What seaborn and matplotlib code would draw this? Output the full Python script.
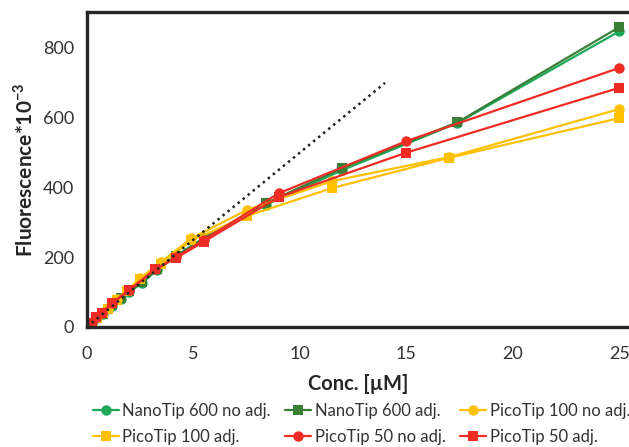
import numpy as np
import pandas as pd
import matplotlib
matplotlib.use("Agg")
import matplotlib.pyplot as plt
import seaborn as sns

# data (Fluorescence * 10^-3 vs concentration in uM)
nano_x = [0.25, 0.5, 0.75, 1.2, 1.6, 2.0, 2.6, 3.3, 4.2, 5.5, 8.4, 12, 17.4, 25]
nano_noadj = [12, 25, 37, 60, 80, 100, 127, 163, 205, 255, 350, 450, 585, 848]
nano_adj = [12, 26, 38, 62, 83, 103, 128, 165, 203, 255, 355, 456, 587, 860]

pico100_x = [0.25, 0.5, 0.75, 1.0, 1.4, 1.9, 2.5, 3.5, 4.9, 7.5, 11.5, 17, 25]
pico100_noadj = [13, 28, 42, 55, 80, 105, 140, 187, 254, 335, 418, 487, 625]
pico100_adj = [12, 27, 40, 52, 78, 102, 137, 182, 248, 318, 398, 485, 599]

pico50_x = [0.25, 0.45, 0.7, 1.2, 2.0, 3.2, 4.2, 5.5, 9, 15, 25]
pico50_noadj = [14, 30, 41, 68, 106, 165, 200, 250, 383, 533, 743]
pico50_adj = [12, 30, 41, 70, 106, 165, 198, 245, 372, 500, 686]

ideal_x = [0, 14]
ideal_y = [0, 700]

labels = ["NanoTip 600 no adj.", "NanoTip 600 adj.", "PicoTip 100 no adj.",
          "PicoTip 100 adj.", "PicoTip 50 no adj.", "PicoTip 50 adj."]

sns.set_style("white")
plt.rcParams['font.family'] = ['Lato', 'DejaVu Sans']
plt.rcParams['mathtext.fontset'] = 'custom'
plt.rcParams['mathtext.rm'] = 'Lato'
plt.rcParams['mathtext.bf'] = 'Lato:bold'

fig = plt.figure(figsize=(6.29, 4.47), dpi=100)
ax = fig.add_axes([0.138, 0.2685, 0.862, 0.7045])

series = [
    (nano_x, nano_noadj, "#1DA85A", "o"),
    (nano_x, nano_adj, "#3A7F36", "s"),
    (pico100_x, pico100_noadj, "#FFC000", "o"),
    (pico100_x, pico100_adj, "#FFC000", "s"),
    (pico50_x, pico50_noadj, "#EE2C24", "o"),
    (pico50_x, pico50_adj, "#EE2C24", "s"),
]
for (xs, ys, col, mk), lab in zip(series, labels):
    sns.lineplot(x=xs, y=ys, color=col, marker=mk, markersize=7.5,
                 markeredgewidth=0, linewidth=1.6, label=lab, ax=ax, sort=False)

ax.plot(ideal_x, ideal_y, color="#222222", linestyle=(0, (1, 1.6)), linewidth=1.8)

ax.set_xlim(0, 25.45)
ax.set_ylim(0, 903)
ax.set_xticks([0, 5, 10, 15, 20, 25])
ax.set_yticks([0, 200, 400, 600, 800])
ax.tick_params(axis='both', direction='out', length=5, width=1.2, colors="#262626",
               labelsize=13, labelcolor="#333333")
ax.tick_params(axis='x', pad=9)
ax.tick_params(axis='y', pad=4)
for s in ['left', 'bottom', 'top']:
    ax.spines[s].set_linewidth(2.4)
    ax.spines[s].set_color("#262626")
ax.spines['right'].set_visible(False)

ax.set_xlabel("Conc. [µM]", fontsize=14.5, fontweight='bold', color="#262626", labelpad=8)
ax.set_ylabel(r"Fluorescence*10$^{\mathbf{-3}}$", fontsize=15, fontweight='bold',
              color="#262626", labelpad=5)

h, l = ax.get_legend_handles_labels()
order = [0, 3, 1, 4, 2, 5]
ax.legend([h[i] for i in order], [l[i] for i in order], ncol=3, frameon=False,
          loc='upper left', bbox_to_anchor=(0.011, -0.242), borderpad=0, borderaxespad=0,
          fontsize=12, handlelength=1.55, handletextpad=0.2, columnspacing=0.9,
          labelspacing=0.58, labelcolor="#333333")

fig.savefig("out.png", dpi=100)
